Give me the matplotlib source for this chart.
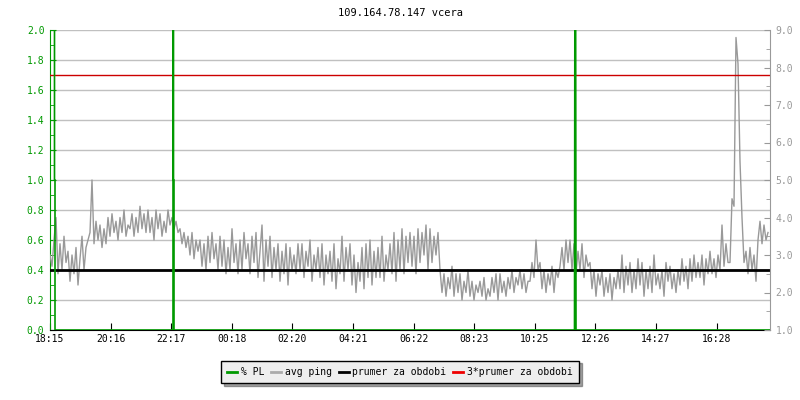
import numpy as np
import matplotlib
matplotlib.use("Agg")
import matplotlib.pyplot as plt
from matplotlib.ticker import MultipleLocator, FormatStrFormatter

# avg ping in ms, one sample every 4 minutes starting at 18:15
avg_ping = [
    3.0, 2.7, 3.4, 4.0, 2.5,  3.3, 2.6, 3.5, 2.8, 3.1,  2.3, 3.0, 2.5, 3.2, 2.2,
    2.9, 3.5, 2.6, 3.2, 3.4,  3.6, 5.0, 3.3, 3.9, 3.4,  3.8, 3.2, 3.7, 3.3, 4.0,
    3.5, 4.1, 3.6, 3.9, 3.4,  4.0, 3.6, 4.2, 3.5, 3.8,  3.7, 4.1, 3.5, 4.0, 3.6,
    4.3, 3.7, 4.1, 3.6, 4.2,  3.6, 4.0, 3.4, 4.2, 3.7,  4.1, 3.5, 3.9, 3.6, 4.2,
    3.8, 4.0, 3.7, 3.9, 3.6,  3.7, 3.3, 3.6, 3.2, 3.5,  3.0, 3.6, 2.9, 3.4, 3.1,
    3.4, 2.7, 3.3, 2.6, 3.5,  2.8, 3.6, 2.9, 3.3, 2.6,  3.5, 2.7, 3.4, 2.5, 3.2,
    2.6, 3.7, 2.8, 3.3, 2.5,  3.4, 2.6, 3.6, 2.9, 3.3,  2.5, 3.5, 2.8, 3.6, 2.4,
    3.1, 3.8, 2.3, 3.4, 2.7,  3.5, 2.4, 3.2, 2.6, 3.3,  2.3, 3.1, 2.5, 3.3, 2.2,
    3.2, 2.6, 3.0, 2.5, 3.3,  2.6, 3.3, 2.4, 3.1, 2.7,  3.4, 2.3, 3.0, 2.6, 3.2,
    2.4, 3.3, 2.2, 3.0, 2.5,  3.1, 2.3, 3.3, 2.1, 2.9,  2.5, 3.5, 2.3, 3.2, 2.6,
    3.3, 2.2, 3.0, 2.0, 2.8,  2.3, 3.2, 2.1, 3.3, 2.4,  3.4, 2.2, 3.1, 2.4, 3.2,
    2.4, 3.5, 2.3, 3.0, 2.6,  3.3, 2.5, 3.6, 2.3, 3.4,  2.6, 3.7, 2.5, 3.5, 2.8,
    3.6, 2.7, 3.5, 2.5, 3.7,  2.8, 3.6, 3.0, 3.8, 2.6,  3.7, 2.8, 3.5, 3.0, 3.6,
    2.6, 2.0, 2.5, 1.9, 2.4,  2.1, 2.7, 1.9, 2.5, 2.0,  2.5, 1.8, 2.3, 2.0, 2.6,
    1.9, 2.3, 1.8, 2.2, 2.0,  2.3, 1.9, 2.4, 1.8, 2.1,  1.9, 2.4, 2.0, 2.5, 1.8,
    2.5, 2.0, 2.3, 1.9, 2.4,  2.1, 2.6, 2.0, 2.4, 2.2,  2.6, 2.1, 2.5, 2.0, 2.3,
    2.3, 2.8, 2.4, 3.4, 2.6,  2.8, 2.1, 2.6, 2.0, 2.5,  2.2, 2.7, 2.0, 2.6, 2.4,
    2.7, 3.2, 2.6, 3.4, 2.8,  3.4, 2.6, 3.3, 2.5, 3.1,  2.6, 3.3, 2.4, 3.0, 2.7,
    2.8, 2.1, 2.6, 1.9, 2.5,  2.2, 2.6, 1.9, 2.4, 2.0,  2.5, 1.8, 2.4, 2.1, 2.6,
    2.1, 3.0, 2.0, 2.7, 2.2,  2.8, 2.0, 2.6, 2.1, 2.9,  2.2, 2.8, 1.9, 2.6, 2.1,
    2.7, 2.0, 3.0, 2.2, 2.5,  2.1, 2.6, 1.9, 2.8, 2.3,  2.7, 2.1, 2.5, 2.0, 2.6,
    2.2, 2.9, 2.3, 2.7, 2.1,  2.9, 2.3, 3.0, 2.4, 2.8,  2.4, 3.0, 2.2, 2.9, 2.5,
    3.1, 2.5, 2.9, 2.4, 3.0,  2.6, 3.8, 2.7, 3.3, 2.8,  2.8, 4.5, 4.3, 8.8, 8.1,
    5.5, 4.0, 2.8, 3.1, 2.5,  3.2, 2.6, 3.0, 2.3, 3.4,  3.9, 3.3, 3.8, 3.4, 3.6,
]
ping_minutes = np.arange(len(avg_ping)) * 4

# packet loss in %, (minute, value) pairs
pl_minutes = [0, 9, 9, 10, 10, 245, 246, 246, 247, 247, 248, 248, 1049, 1050, 1051, 1052, 1440]
pl_values = [3, 3, 1, 1, 0, 0, 0, 3, 3, 1, 1, 0, 0, 3, 3, 0, 0]

prumer = 2.6
prumer3 = 7.8

tick_labels = ["18:15", "20:16", "22:17", "00:18", "02:20", "04:21",
               "06:22", "08:23", "10:25", "12:26", "14:27", "16:28"]
tick_minutes = np.arange(len(tick_labels)) * 121.2

green = "#009900"
grey = "#999999"
font = "DejaVu Sans Mono"
fs = 7

fig = plt.figure(figsize=(8, 4), dpi=100)
ax = fig.add_axes([0.0625, 0.175, 0.9, 0.75])   # left scale, grid
ax2 = ax.twinx()                                 # right scale, ping
ax3 = ax.twinx()                                 # packet loss on top
ax3.set_ylim(0, 2)
ax3.axis("off")

# left axis
ax.set_ylim(0, 2)
ax.set_xlim(0, 1440)
ax.yaxis.set_major_locator(MultipleLocator(0.2))
ax.yaxis.set_minor_locator(MultipleLocator(0.1))
ax.yaxis.set_major_formatter(FormatStrFormatter("%.1f"))
ax.grid(axis="y", which="major", color="#c0c0c0", lw=1)
ax.tick_params(axis="y", which="both", direction="in", colors=green, labelsize=fs, pad=4)
ax.tick_params(axis="y", which="major", length=4)
ax.tick_params(axis="y", which="minor", length=3)
ax.set_xticks(tick_minutes)
ax.set_xticklabels(tick_labels)
ax.tick_params(axis="x", direction="in", length=5, colors="black", labelsize=fs, pad=3)
ax.spines["left"].set_color(green)
ax.spines["top"].set_visible(False)
ax.spines["right"].set_visible(False)

# right axis: ping
ax2.set_ylim(1, 9)
ax2.yaxis.set_major_locator(MultipleLocator(1))
ax2.yaxis.set_minor_locator(MultipleLocator(0.5))
ax2.yaxis.set_major_formatter(FormatStrFormatter("%.1f"))
ax2.plot(ping_minutes, avg_ping, color=grey, lw=1)
ax2.axhline(prumer, color="black", lw=2)
ax2.axhline(prumer3, color="#cc0000", lw=1)
ax2.tick_params(axis="y", which="both", direction="in", colors=grey, labelsize=fs, pad=4)
ax2.tick_params(axis="y", which="major", length=4)
ax2.tick_params(axis="y", which="minor", length=3)
for s in ["left", "top", "bottom"]:
    ax2.spines[s].set_visible(False)
ax2.spines["right"].set_color(grey)

ax3.plot(pl_minutes, pl_values, color=green, lw=1.2)

for lbl in ax.get_xticklabels() + ax.get_yticklabels() + ax2.get_yticklabels():
    lbl.set_family(font)

fig.text(0.5, 1 - 13 / 400, "109.164.78.147 vcera", ha="center", va="center",
         family=font, fontsize=7.5)

handles = [
    plt.Line2D([], [], color=green, lw=2),
    plt.Line2D([], [], color="#aaaaaa", lw=2),
    plt.Line2D([], [], color="black", lw=2),
    plt.Line2D([], [], color="#ee0000", lw=2),
]
labels = ["% PL", "avg ping", "prumer za obdobi", "3*prumer za obdobi"]
leg = fig.legend(handles, labels, loc="center", bbox_to_anchor=(0.5, 1 - 372 / 400),
                 ncol=4, fancybox=False, shadow=True, frameon=True,
                 handlelength=1.0, handletextpad=0.4, columnspacing=0.7,
                 borderpad=0.65, prop={"family": font, "size": fs})
leg.get_frame().set_facecolor("#eeeeee")
leg.get_frame().set_edgecolor("black")
leg.get_frame().set_alpha(1)

fig.savefig("out.png", dpi=100)
